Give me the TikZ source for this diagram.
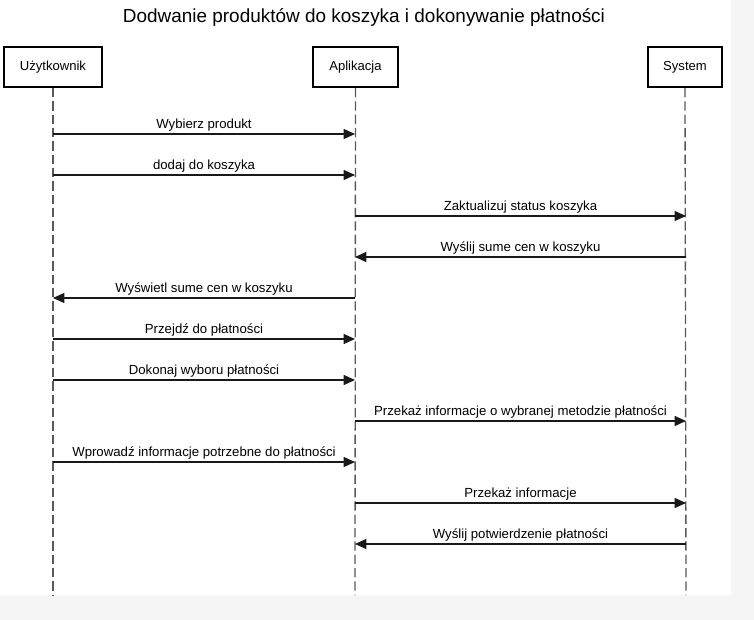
\documentclass[tikz,border=0pt]{standalone}
\usepackage{fontspec}
\setmainfont{Liberation Sans}
\usetikzlibrary{arrows.meta}
\begin{document}
\begin{tikzpicture}[x=0.75pt,y=-0.75pt,
 actor/.style={draw=black,line width=1.5pt,fill=white,minimum height=30pt,inner sep=0pt,font=\fontsize{9.8}{11}\selectfont},
 life/.style={draw=black!65,line width=1pt,dash pattern=on 7pt off 3pt},
 msg/.style={draw=black!90,line width=0.8pt,-{Triangle[length=8.5pt,width=7.5pt]}},
 lbl/.style={font=\fontsize{9.9}{11}\selectfont,above,inner sep=2pt}]
\fill[black!4] (0,0) rectangle (754,620);
\fill[white] (0,0) rectangle (731,595);
\useasboundingbox (0,0) rectangle (754,620);
\node[font=\fontsize{14.2}{16}\selectfont] (title) at (364,17) {Dodwanie produktów do koszyka i dokonywanie płatności};
\node[actor,minimum width=73.5pt] (U) at (53,67) {Użytkownik};
\node[actor,minimum width=64pt] (A) at (355.5,67) {Aplikacja};
\node[actor,minimum width=56pt] (S) at (685,67) {System};
\coordinate (Ue) at (53,595);
\coordinate (Ae) at (355,595);
\coordinate (Se) at (686,595);
\draw[life] (U.south) -- (Ue);
\draw[life] (A.south) -- (Ae);
\draw[life] (S.south) -- (Se);
\draw[msg] (Ue |- 0,134) -- node[lbl]{Wybierz produkt} (Ae |- 0,134);
\draw[msg] (Ue |- 0,175) -- node[lbl]{dodaj do koszyka} (Ae |- 0,175);
\draw[msg] (Ae |- 0,216) -- node[lbl]{Zaktualizuj status koszyka} (Se |- 0,216);
\draw[msg] (Se |- 0,257) -- node[lbl]{Wyślij sume cen w koszyku} (Ae |- 0,257);
\draw[msg] (Ae |- 0,298) -- node[lbl]{Wyświetl sume cen w koszyku} (Ue |- 0,298);
\draw[msg] (Ue |- 0,339) -- node[lbl]{Przejdź do płatności} (Ae |- 0,339);
\draw[msg] (Ue |- 0,380) -- node[lbl]{Dokonaj wyboru płatności} (Ae |- 0,380);
\draw[msg] (Ae |- 0,421) -- node[lbl]{Przekaż informacje o wybranej metodzie płatności} (Se |- 0,421);
\draw[msg] (Ue |- 0,462) -- node[lbl]{Wprowadź informacje potrzebne do płatności} (Ae |- 0,462);
\draw[msg] (Ae |- 0,503) -- node[lbl]{Przekaż informacje} (Se |- 0,503);
\draw[msg] (Se |- 0,544) -- node[lbl]{Wyślij potwierdzenie płatności} (Ae |- 0,544);
\end{tikzpicture}
\end{document}
